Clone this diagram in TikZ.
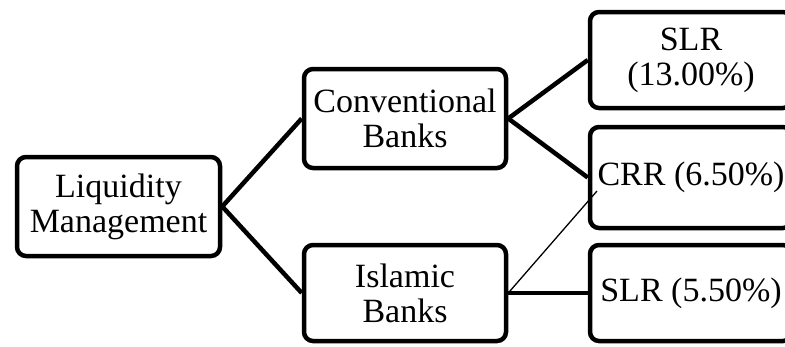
\documentclass[tikz,border=0pt]{standalone}
\usepackage{fontspec}
\setmainfont{Liberation Serif}
\begin{document}
\begin{tikzpicture}[x=1pt,y=-1pt,
  box/.style={draw, line width=4.5pt, rounded corners=9pt, inner sep=0pt,
    align=center, font=\fontsize{34}{35}\selectfont, fill=white},
  thick link/.style={line width=4.5pt},
  thin link/.style={line width=1.3pt}]
\clip (0,0) rectangle (785,346);
\fill[white] (0,0) rectangle (785,346);
\node[box, minimum width=203, minimum height=99] (liq) at (118.5,206.5) {Liquidity\\Management};
\node[box, minimum width=202, minimum height=99] (conv) at (405,118.5) {Conventional\\Banks};
\node[box, minimum width=202, minimum height=96] (isl) at (405,293) {Islamic\\Banks};
\node[box, minimum width=202, minimum height=96] (slra) at (691,60) {SLR\\(13.00\%)};
\node[box, minimum width=202, minimum height=101] (crr) at (691,177.5) {CRR (6.50\%)};
\node[box, minimum width=202, minimum height=96] (slrb) at (691,293) {SLR (5.50\%)};
\coordinate (crrin) at (597,191);
\draw[thick link] (liq.east) -- (conv.west);
\draw[thick link] (liq.east) -- (isl.west);
\draw[thick link] (conv.east) -- (slra.west);
\draw[thick link] (conv.east) -- (crr.west);
\draw[thick link] (isl.east) -- (slrb.west);
\draw[thin link] (isl.east) -- (crrin);
\end{tikzpicture}
\end{document}
